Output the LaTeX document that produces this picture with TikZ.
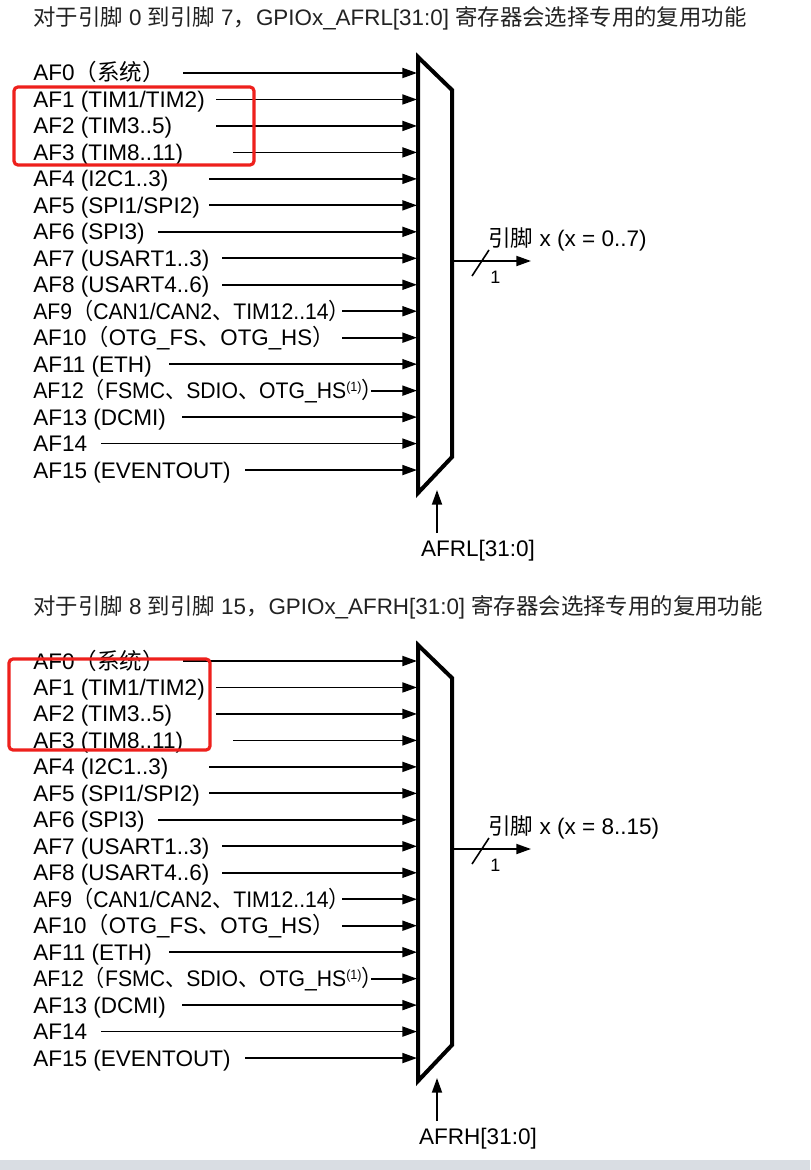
\documentclass[tikz,border=0pt]{standalone}
\usepackage{fontspec}
\setmainfont{Liberation Sans}
\newfontfamily\cjk{Noto Sans CJK SC}
\usetikzlibrary{arrows.meta}
\definecolor{hlred}{RGB}{238,32,28}
\definecolor{barcol}{RGB}{217,221,227}
\definecolor{titlecol}{RGB}{34,34,34}
\tikzset{
  lab/.style={anchor=base west, inner sep=0pt, font=\fontsize{16.9}{19}\selectfont},
  feed/.style={line width=1.35pt, -{Triangle[length=11pt,width=7.5pt]}},
  muxbox/.style={line width=3pt, fill=white, line join=miter},
  hl/.style={draw=hlred, line width=2.4pt, rounded corners=3pt},
  ttl/.style={anchor=base west, inner sep=0pt, text=titlecol, font=\fontsize{16.8}{19}\selectfont},
  small/.style={anchor=base west, inner sep=0pt, font=\fontsize{13.5}{15}\selectfont},
}
\newcommand\muxdiagram[5]{%
  \begin{scope}[shift={(0,#1)}]
    \node[ttl] (#5title) at (33,26) {#2};
    \foreach \i/\txt/\tx/\sx in {
      0/{AF0{\cjk（系统）}}/183/1,
      1/{AF1 (TIM1/TIM2)}/216/1,
      2/{AF2 (TIM3..5)}/216/1,
      3/{AF3 (TIM8..11)}/233/1,
      4/{AF4 (I2C1..3)}/209/1,
      5/{AF5 (SPI1/SPI2)}/209/1,
      6/{AF6 (SPI3)}/158/1,
      7/{AF7 (USART1..3)}/222/1,
      8/{AF8 (USART4..6)}/222/1,
      9/{AF9{\cjk（}CAN1/CAN2{\cjk 、}TIM12..14{\cjk ）}}/342/0.94,
      10/{AF10{\cjk（}OTG\_FS{\cjk 、}OTG\_HS{\cjk ）}}/342/0.99,
      11/{AF11 (ETH)}/169/1,
      12/{AF12{\cjk（}FSMC{\cjk 、}SDIO{\cjk 、}OTG\_HS{\fontsize{10}{10}\selectfont\raisebox{0.55em}{(1)}}{\cjk ）}}/371/0.94,
      13/{AF13 (DCMI)}/182/1,
      14/{AF14}/101/1,
      15/{AF15 (EVENTOUT)}/245/1} {
      \node[lab] (#5lab\i) at (33,{73+26.47*\i+8}) {\scalebox{\sx}[1]{\txt}};
      \coordinate (#5t\i) at (\tx,{73+26.47*\i});
      \coordinate (#5m\i) at (417,{73+26.47*\i});
      \draw[feed] (#5t\i) -- (#5m\i);
    }
    \coordinate (#5a) at (418,57);
    \coordinate (#5b) at (452,90);
    \coordinate (#5c) at (452,457);
    \coordinate (#5d) at (418,493);
    \draw[muxbox] (#5a) -- (#5b) -- (#5c) -- (#5d) -- cycle;
    \coordinate (#5out) at (452,261);
    \coordinate (#5pin) at (531,261);
    \draw[feed] (#5out) -- (#5pin);
    \coordinate (#5s1) at (472,276);
    \coordinate (#5s2) at (489,250);
    \draw[line width=1.2pt] (#5s1) -- (#5s2);
    \node[small] (#5one) at (490,283) {1};
    \node[lab] (#5pinlab) at (488,246) {#3};
    \coordinate (#5selb) at (437,533);
    \coordinate (#5selt) at (437,490);
    \draw[feed] (#5selb) -- (#5selt);
    \node[inner sep=0pt, font=\fontsize{16.9}{19}\selectfont] (#5sel) at (478,551) {#4};
  \end{scope}%
}
\begin{document}
\begin{tikzpicture}[x=0.75pt,y=-0.75pt]
  \useasboundingbox (0,0) rectangle (810,1170);
  \fill[white] (0,0) rectangle (810,1170);
  \fill[barcol] (0,1160) rectangle (810,1170);
  \muxdiagram{0}{{\cjk 对于引脚} 0 {\cjk 到引脚} 7{\cjk ，}GPIOx\_AFRL[31:0] {\cjk 寄存器会选择专用的复用功能}}{{\cjk 引脚} x (x = 0..7)}{AFRL[31:0]}{L}
  \muxdiagram{588}{{\cjk 对于引脚} 8 {\cjk 到引脚} 15{\cjk ，}GPIOx\_AFRH[31:0] {\cjk 寄存器会选择专用的复用功能}}{{\cjk 引脚} x (x = 8..15)}{AFRH[31:0]}{H}
  \draw[hl] (14,87) rectangle (254,165);
  \draw[hl] (9,659) rectangle (210,750);
\end{tikzpicture}
\end{document}
